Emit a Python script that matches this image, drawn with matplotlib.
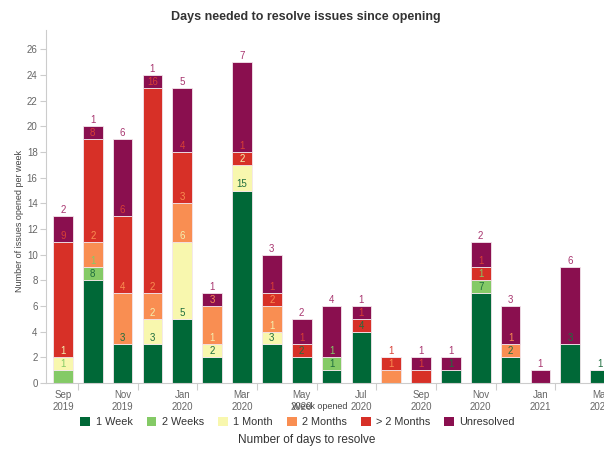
import numpy as np
import matplotlib
matplotlib.use("Agg")
import matplotlib.pyplot as plt
from matplotlib.patches import Patch

months = ["Sep\n2019", "Oct\n2019", "Nov\n2019", "Dec\n2019", "Jan\n2020", "Feb\n2020",
          "Mar\n2020", "Apr\n2020", "May\n2020", "Jun\n2020", "Jul\n2020", "Aug\n2020",
          "Sep\n2020", "Oct\n2020", "Nov\n2020", "Dec\n2020", "Jan\n2021", "Feb\n2021",
          "Mar\n2021"]

one_week   = [0, 8, 3, 3, 5, 2, 15, 3, 2, 1, 4, 0, 0, 1, 7, 2, 0, 3, 1]
two_weeks  = [1, 1, 0, 0, 0, 0, 0, 0, 0, 1, 0, 0, 0, 0, 1, 0, 0, 0, 0]
one_month  = [1, 0, 0, 2, 6, 1, 2, 1, 0, 0, 0, 0, 0, 0, 0, 0, 0, 0, 0]
two_months = [0, 2, 4, 2, 3, 3, 0, 2, 0, 0, 0, 1, 0, 0, 0, 1, 0, 0, 0]
over_two   = [9, 8, 6, 16, 4, 0, 1, 1, 1, 0, 1, 1, 1, 0, 1, 0, 0, 0, 0]
unresolved = [2, 1, 6, 1, 5, 1, 7, 3, 2, 4, 1, 0, 1, 1, 2, 3, 1, 6, 0]

series = ["1 Week", "2 Weeks", "1 Month", "2 Months", "> 2 Months", "Unresolved"]
colors = ["#006837", "#84ca66", "#f8f7ae", "#f98e52", "#d73027", "#8a0f4f"]
label_colors = ["#1f6e3e", "#84ca66", "#f3f0b0", "#f98e52", "#d84035", "#a8356f"]
values = [one_week, two_weeks, one_month, two_months, over_two, unresolved]

plt.rcParams["font.family"] = ["Liberation Sans", "DejaVu Sans"]
fig = plt.figure(figsize=(6.04, 4.5), dpi=100)
ax = fig.add_axes([0.076, 0.149, 0.924, 0.784])

x = np.arange(len(months))
bottom = np.zeros(len(months))
for name, col, tcol, vals in zip(series, colors, label_colors, values):
    vals = np.array(vals, dtype=float)
    ax.bar(x, vals, width=0.66, bottom=bottom, color=col, edgecolor="#f3e6ec",
           linewidth=0.6, label=name)
    top = bottom + vals
    for xi, v, t in zip(x, vals, top):
        if v > 0:
            ax.annotate(f"{int(v)}", (xi, t), xytext=(0, 0.8), textcoords="offset points",
                        ha="center", va="bottom", fontsize=7, color=tcol)
    bottom = top

ax.set_xlim(-0.57, 18.13)
ax.set_ylim(0, 27.5)
ax.set_yticks(np.arange(0, 27, 2))
ax.set_xticks(x[::2])
ax.set_xticklabels(months[::2], fontsize=7, color="#666666", linespacing=1.3)
ax.set_xticks(x[:-1:2] + 0.5, minor=True)
ax.tick_params(axis="x", which="major", length=0, pad=5)
ax.tick_params(axis="x", which="minor", length=5, color="#cccccc", width=0.8)
ax.tick_params(axis="y", length=4, color="#cccccc", width=0.8, labelsize=7,
               labelcolor="#666666", pad=2)
for s in ["top", "right"]:
    ax.spines[s].set_visible(False)
for s in ["left", "bottom"]:
    ax.spines[s].set_color("#cccccc")
    ax.spines[s].set_linewidth(0.8)

ax.set_ylabel("Number of issues opened per week", fontsize=6.5, color="#444444")
ax.yaxis.set_label_coords(-0.04, 0.46)
fig.text(0.53, 0.097, "Week opened", fontsize=6.5, color="#444444", ha="center",
         va="center")
fig.text(0.507, 0.962, "Days needed to resolve issues since opening", fontsize=9,
         fontweight="bold", color="#333333", ha="center", va="center")

handles = [Patch(facecolor=c, edgecolor="none", label=n) for n, c in zip(series, colors)]
fig.legend(handles=handles, loc="center", bbox_to_anchor=(0.493, 0.062), ncol=6,
           frameon=False, fontsize=7.8, handlelength=0.9, handleheight=0.9,
           handletextpad=0.5, columnspacing=1.3, labelcolor="#333333")
fig.text(0.507, 0.022, "Number of days to resolve", fontsize=8.5, color="#333333",
         ha="center", va="center")

fig.savefig("out.png", dpi=100)
